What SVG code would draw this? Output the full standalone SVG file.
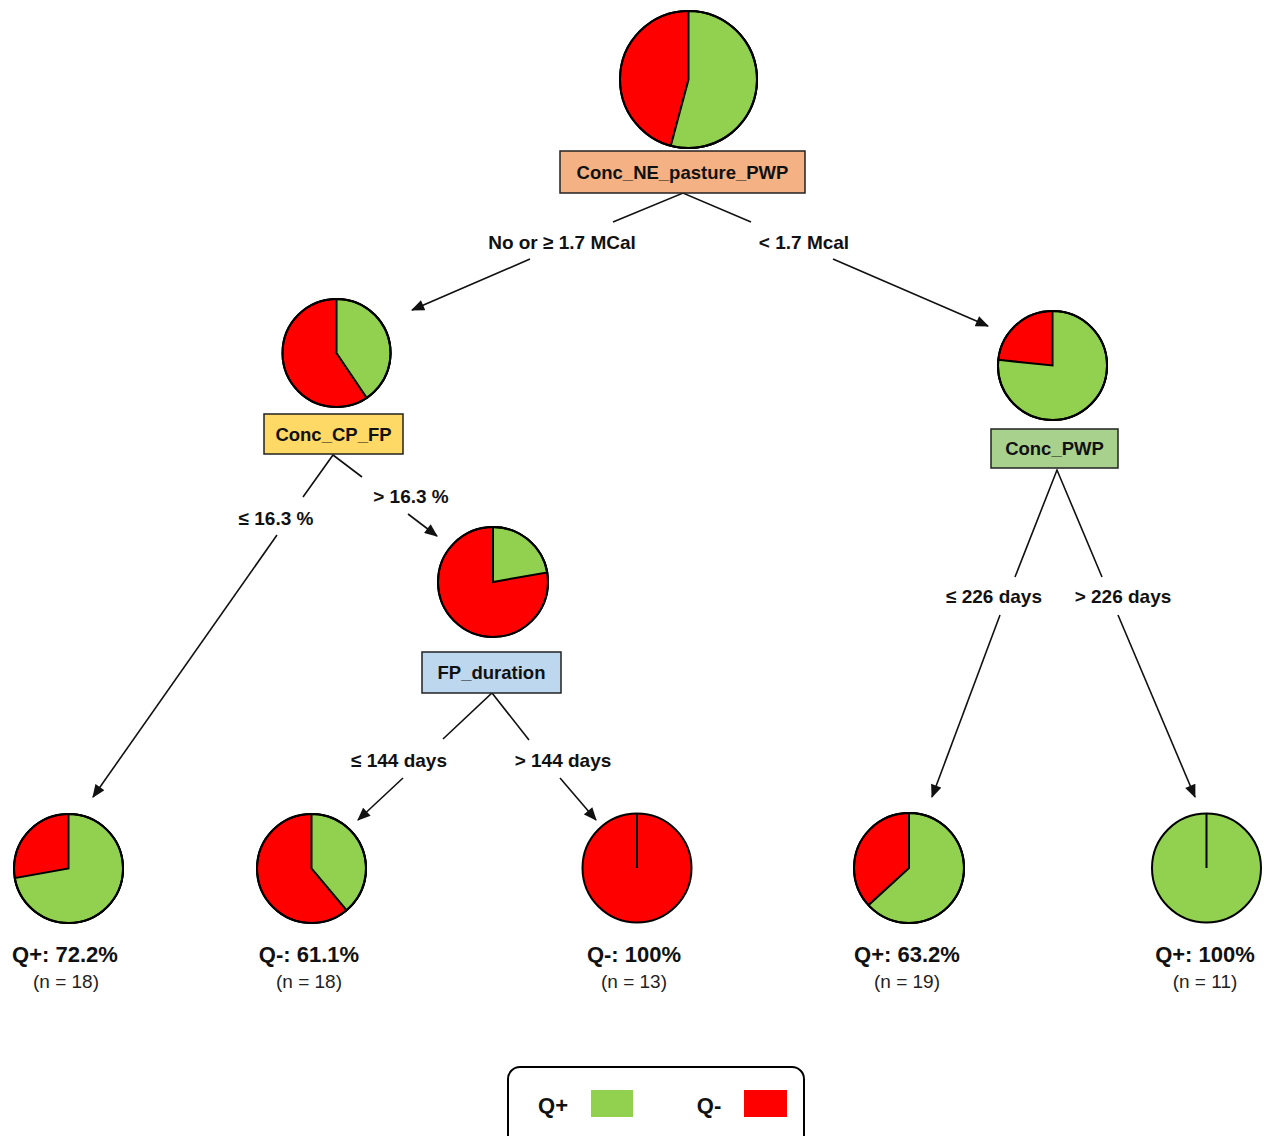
<svg xmlns="http://www.w3.org/2000/svg" width="1264" height="1136" viewBox="0 0 1264 1136">
<defs>
<style>
.g{fill:#92D050;stroke:#000;stroke-width:2}
.r{fill:#FF0000;stroke:#000;stroke-width:2}
.box{stroke:#222;stroke-width:1.5}
.bt{font-family:"Liberation Sans",Arial,sans-serif;font-weight:bold;font-size:18.5px;fill:#111;text-anchor:middle}
.el{font-family:"Liberation Sans",Arial,sans-serif;font-weight:bold;font-size:19px;fill:#111;text-anchor:middle}
.lq{font-family:"Liberation Sans",Arial,sans-serif;font-weight:bold;font-size:22px;fill:#111;text-anchor:middle}
.ln{font-family:"Liberation Sans",Arial,sans-serif;font-size:19px;fill:#222;text-anchor:middle}
.c{fill:none;stroke:#111;stroke-width:1.6}
.a{fill:none;stroke:#111;stroke-width:1.6;marker-end:url(#ah)}
</style>
<marker id="ah" viewBox="0 0 12 10" refX="11" refY="5" markerWidth="14" markerHeight="11" markerUnits="userSpaceOnUse" orient="auto">
<path d="M0,0 L12,5 L0,10 Z" fill="#111"/>
</marker>
</defs>
<rect width="1264" height="1136" fill="#fff"/>

<g id="connectors">
<path class="c" d="M613,222 L683,193 L751,222"/>
<path class="a" d="M530,259 L412,310"/>
<path class="a" d="M833,259 L988,326"/>
<path class="c" d="M303,497 L333,455 L362,477"/>
<path class="a" d="M408,514 L437,536"/>
<path class="a" d="M277,535 L93,797"/>
<path class="c" d="M443,739 L492,693 L529,740"/>
<path class="a" d="M403,778 L358,820"/>
<path class="a" d="M560,778 L596,820"/>
<path class="c" d="M1015,577 L1057,470 L1102,577"/>
<path class="a" d="M1000,615 L932,797"/>
<path class="a" d="M1118,615 L1195,797"/>
<text class="el" x="562" y="249">No or ≥ 1.7 MCal</text>
<text class="el" x="804" y="249">&lt; 1.7 Mcal</text>
<text class="el" x="276" y="525">≤ 16.3 %</text>
<text class="el" x="411" y="503">&gt; 16.3 %</text>
<text class="el" x="399" y="767">≤ 144 days</text>
<text class="el" x="563" y="767">&gt; 144 days</text>
<text class="el" x="994" y="603">≤ 226 days</text>
<text class="el" x="1123" y="603">&gt; 226 days</text>
</g>

<g id="root">
<circle class="r" cx="688.5" cy="79.5" r="68.5"/>
<path class="g" d="M688.5,79.5 L688.5,11 A68.5,68.5 0 1 1 670.77,145.67 Z"/>
<circle cx="688.5" cy="79.5" r="68.5" fill="none" stroke="#000" stroke-width="2"/>
<rect class="box" x="560" y="151" width="245" height="42" fill="#F4B183"/>
<text class="bt" x="682.5" y="179">Conc_NE_pasture_PWP</text>
</g>

<g id="conc_cp_fp">
<circle class="r" cx="336.5" cy="353" r="54"/>
<path class="g" d="M336.5,353 L336.5,299 A54,54 0 0 1 366.7,397.8 Z"/>
<circle cx="336.5" cy="353" r="54" fill="none" stroke="#000" stroke-width="2"/>
<rect class="box" x="264" y="414" width="139" height="40" fill="#FFD966"/>
<text class="bt" x="333.5" y="441">Conc_CP_FP</text>
</g>

<g id="conc_pwp">
<circle class="r" cx="1052.5" cy="365.5" r="54.5"/>
<path class="g" d="M1052.5,365.5 L1052.5,311 A54.5,54.5 0 1 1 998.3,359.8 Z"/>
<circle cx="1052.5" cy="365.5" r="54.5" fill="none" stroke="#000" stroke-width="2"/>
<rect class="box" x="991" y="429" width="127" height="39" fill="#A9D18E"/>
<text class="bt" x="1054.5" y="455">Conc_PWP</text>
</g>

<g id="fp_duration">
<circle class="r" cx="493" cy="582" r="55"/>
<path class="g" d="M493,582 L493,527 A55,55 0 0 1 547.2,572.45 Z"/>
<circle cx="493" cy="582" r="55" fill="none" stroke="#000" stroke-width="2"/>
<rect class="box" x="422" y="652" width="139" height="41" fill="#BDD7EE"/>
<text class="bt" x="491.5" y="679">FP_duration</text>
</g>

<g id="leaf1">
<circle class="r" cx="68.5" cy="868.5" r="54.5"/>
<path class="g" d="M68.5,868.5 L68.5,814 A54.5,54.5 0 1 1 14.83,877.96 Z"/>
<circle cx="68.5" cy="868.5" r="54.5" fill="none" stroke="#000" stroke-width="2"/>
<text class="lq" x="65" y="962">Q+: 72.2%</text>
<text class="ln" x="66" y="988">(n = 18)</text>
</g>

<g id="leaf2">
<circle class="r" cx="311.5" cy="868.5" r="54.5"/>
<path class="g" d="M311.5,868.5 L311.5,814 A54.5,54.5 0 0 1 346.53,910.25 Z"/>
<circle cx="311.5" cy="868.5" r="54.5" fill="none" stroke="#000" stroke-width="2"/>
<text class="lq" x="309" y="962">Q-: 61.1%</text>
<text class="ln" x="309" y="988">(n = 18)</text>
</g>

<g id="leaf3">
<circle class="r" cx="637" cy="868" r="54.5"/>
<line x1="637" y1="813.5" x2="637" y2="868" stroke="#000" stroke-width="2"/>
<text class="lq" x="634" y="962">Q-: 100%</text>
<text class="ln" x="634" y="988">(n = 13)</text>
</g>

<g id="leaf4">
<circle class="r" cx="909" cy="868" r="55"/>
<path class="g" d="M909,868 L909,813 A55,55 0 1 1 868.45,905.16 Z"/>
<circle cx="909" cy="868" r="55" fill="none" stroke="#000" stroke-width="2"/>
<text class="lq" x="907" y="962">Q+: 63.2%</text>
<text class="ln" x="907" y="988">(n = 19)</text>
</g>

<g id="leaf5">
<circle class="g" cx="1206.5" cy="868" r="54.5"/>
<line x1="1206.5" y1="813.5" x2="1206.5" y2="868" stroke="#000" stroke-width="2"/>
<text class="lq" x="1205" y="962">Q+: 100%</text>
<text class="ln" x="1205" y="988">(n = 11)</text>
</g>

<g id="legend">
<rect x="508" y="1067" width="296" height="90" rx="12" fill="#fff" stroke="#000" stroke-width="2"/>
<text class="lq" x="553" y="1113">Q+</text>
<rect x="591" y="1090" width="42" height="27" fill="#92D050"/>
<text class="lq" x="709" y="1113">Q-</text>
<rect x="744" y="1090" width="43" height="27" fill="#FF0000"/>
</g>
</svg>
